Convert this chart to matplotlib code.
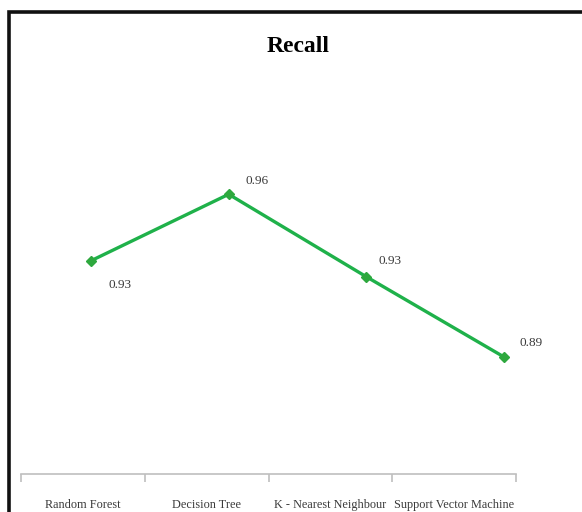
import matplotlib
matplotlib.use("Agg")
import matplotlib.pyplot as plt
from matplotlib.patches import Rectangle

models = ["Random Forest", "Decision Tree", "K - Nearest Neighbour", "Support Vector Machine"]
recall = [0.933, 0.962, 0.926, 0.891]

W, H = 582, 512
fig = plt.figure(figsize=(W / 100, H / 100), dpi=100)
fig.patch.set_facecolor("white")

# outer chart border
fig.add_artist(Rectangle((9 / W, -0.05), 1.1, 1 - 12 / H + 0.05, transform=fig.transFigure,
                         fill=False, edgecolor="#111111", linewidth=2.6, zorder=10))

left, right = 21 / W, 516 / W
bottom, top = (H - 474) / H, (H - 153) / H
ax = fig.add_axes([left, bottom, right - left, top - bottom])
ax.set_xlim(-0.5, len(models) - 0.5)
ax.set_ylim(0.84, 0.98)
for s in ["top", "left", "right"]:
    ax.spines[s].set_visible(False)
ax.spines["bottom"].set_color("#bfbfbf")
ax.spines["bottom"].set_linewidth(1.2)
ax.set_yticks([])
ax.set_xticks([i - 0.5 for i in range(len(models) + 1)])
ax.set_xticklabels([])
ax.tick_params(axis="x", which="major", length=6, color="#bfbfbf", width=1.2)
ax.set_xticks(range(len(models)), minor=True)
ax.set_xticklabels(models, minor=True, fontsize=8.8, family="Liberation Serif", color="#3a3a3a")
ax.tick_params(axis="x", which="minor", length=0, pad=18)
ax.patch.set_alpha(0)

# series layer
lx = fig.add_axes([left, bottom, right - left, top - bottom], sharey=ax)
lx.set_xlim(-0.508, 3.086)
lx.axis("off")
xs = list(range(len(models)))
lx.plot(xs, recall, color="#1fb14a", linewidth=2.4, marker="D", markersize=5,
        markerfacecolor="#2ea83e", markeredgecolor="#2ea83e", zorder=3)
offsets = [(29, -24), (28, 13), (24, 16), (27, 14)]
for x, v, off in zip(xs, recall, offsets):
    lx.annotate(f"{v:.2f}", (x, v), xytext=off, textcoords="offset pixels",
                ha="center", va="center", fontsize=9.5, family="Liberation Serif", color="#3a3a3a")

fig.text(298 / W, 1 - 46 / H, "Recall", ha="center", va="center", fontsize=17,
         fontweight="bold", family="Liberation Serif", color="black")

fig.savefig("out.png", dpi=100)
